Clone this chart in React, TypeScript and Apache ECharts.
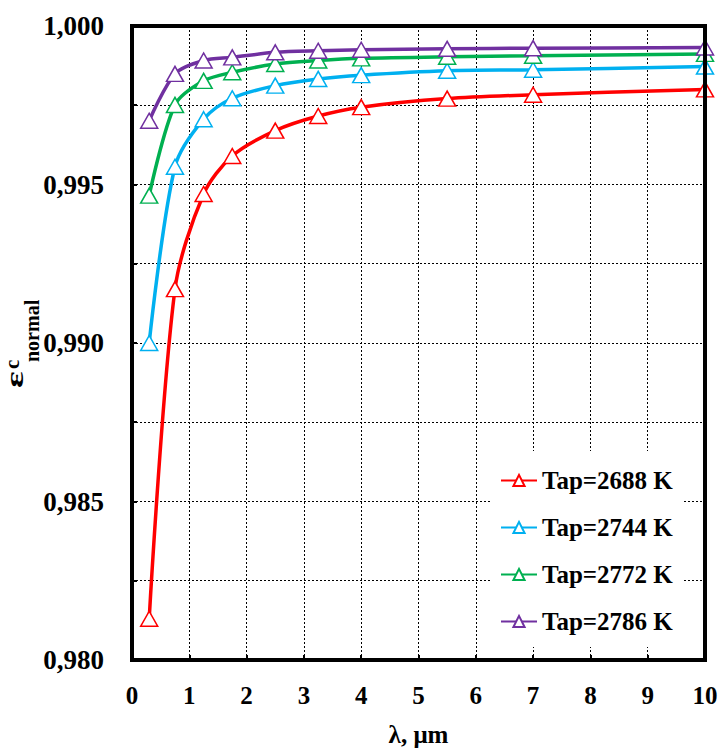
import React, { useEffect, useRef } from "react";
import * as echarts from "echarts";

const wavelengths = [0.3, 0.75, 1.25, 1.75, 2.5, 3.25, 4, 5.5, 7, 10];
const t2688 = [0.9813, 0.9917, 0.9947, 0.9959, 0.9967, 0.99716, 0.99744, 0.99771, 0.99783, 0.998];
const t2744 = [0.99, 0.99556, 0.99706, 0.99772, 0.99812, 0.99833, 0.99845, 0.99859, 0.99862, 0.99872];
const t2772 = [0.99465, 0.99751, 0.99827, 0.99854, 0.9988, 0.99891, 0.99898, 0.99903, 0.99906, 0.99912];
const t2786 = [0.99701, 0.99849, 0.99891, 0.99901, 0.99917, 0.99922, 0.99925, 0.99928, 0.9993, 0.99932];

const seriesNames = ["Tap=2688 K", "Tap=2744 K", "Tap=2772 K", "Tap=2786 K"];
const seriesValues = [t2688, t2744, t2772, t2786];
const seriesColors = ["#FF0000", "#00B0F0", "#00B050", "#7030A0"];

const FONT = "'Liberation Serif', 'Times New Roman', serif";

export default function App() {
  const ref = useRef<HTMLDivElement>(null);
  useEffect(() => {
    if (!ref.current) return;
    const chart = echarts.init(ref.current, null, { renderer: "svg" });
    const series = seriesNames.map((name, i) => ({
      name,
      type: "line",
      data: wavelengths.map((x, j) => [x, seriesValues[i][j]]),
      smooth: 0.3,
      symbol: "triangle",
      symbolSize: [17, 15],
      showAllSymbol: true,
      clip: false,
      lineStyle: { color: seriesColors[i], width: 3.5 },
      itemStyle: { color: "#fff", borderColor: seriesColors[i], borderWidth: 1.5 },
      z: 3 + i,
    }));
    chart.setOption({
      animation: false,
      backgroundColor: "#fff",
      grid: {
        left: 132,
        right: 18,
        top: 26,
        bottom: 89,
        outerBoundsMode: "none",
        containLabel: false,
        show: true,
        borderColor: "#000",
        borderWidth: 4,
        backgroundColor: "transparent",
        z: 10,
      },
      legend: {
        orient: "vertical",
        left: 490,
        top: 451,
        padding: [17, 10, 13, 10],
        backgroundColor: "#fff",
        itemWidth: 36,
        itemHeight: 14,
        itemGap: 22,
        textStyle: { fontFamily: FONT, fontWeight: "bold", fontSize: 25, color: "#000" },
        data: seriesNames,
      },
      xAxis: {
        type: "value",
        min: 0,
        max: 10,
        interval: 1,
        name: "λ, μm",
        nameLocation: "middle",
        nameGap: 62,
        nameTextStyle: { fontFamily: FONT, fontWeight: "bold", fontSize: 25, color: "#000" },
        axisLine: { show: true, lineStyle: { color: "#000", width: 4 } },
        axisTick: { show: true, inside: true, length: 5, lineStyle: { color: "#000", width: 2 } },
        axisLabel: { fontFamily: FONT, fontWeight: "bold", fontSize: 25, color: "#000", margin: 23 },
        splitLine: { show: true, lineStyle: { color: "#000", width: 1, type: [2, 2] } },
      },
      yAxis: {
        type: "value",
        min: 0.98,
        max: 1.0,
        interval: 0.0025,
        axisLine: { show: true, lineStyle: { color: "#000", width: 4 } },
        axisTick: { show: true, inside: true, length: 5, lineStyle: { color: "#000", width: 2 } },
        axisLabel: {
          fontFamily: FONT,
          fontWeight: "bold",
          fontSize: 27,
          color: "#000",
          margin: 28,
          formatter: (v: number) => {
            const k = Math.round(v * 10000);
            return k % 50 === 0 ? (k / 10000).toFixed(3).replace(".", ",") : "";
          },
        },
        splitLine: { show: true, lineStyle: { color: "#000", width: 1, type: [2, 2] } },
      },
      graphic: [
        {
          type: "text",
          x: 14,
          y: 388,
          rotation: Math.PI / 2,
          scaleX: 1.5,
          style: { text: "ε", fontFamily: FONT, fontWeight: "bold", fontSize: 26, fill: "#000", align: "left", verticalAlign: "middle" },
        },
        {
          type: "text",
          x: 12,
          y: 369,
          rotation: Math.PI / 2,
          style: { text: "c", fontFamily: FONT, fontWeight: "bold", fontSize: 21, fill: "#000", align: "left", verticalAlign: "middle" },
        },
        {
          type: "text",
          x: 32,
          y: 362,
          rotation: Math.PI / 2,
          style: { text: "normal", fontFamily: FONT, fontWeight: "bold", fontSize: 20, fill: "#000", align: "left", verticalAlign: "middle" },
        },
      ],
      series,
    });
    return () => chart.dispose();
  }, []);
  return <div ref={ref} style={{ position: "absolute", left: 0, top: 0, width: 723, height: 749 }} />;
}
